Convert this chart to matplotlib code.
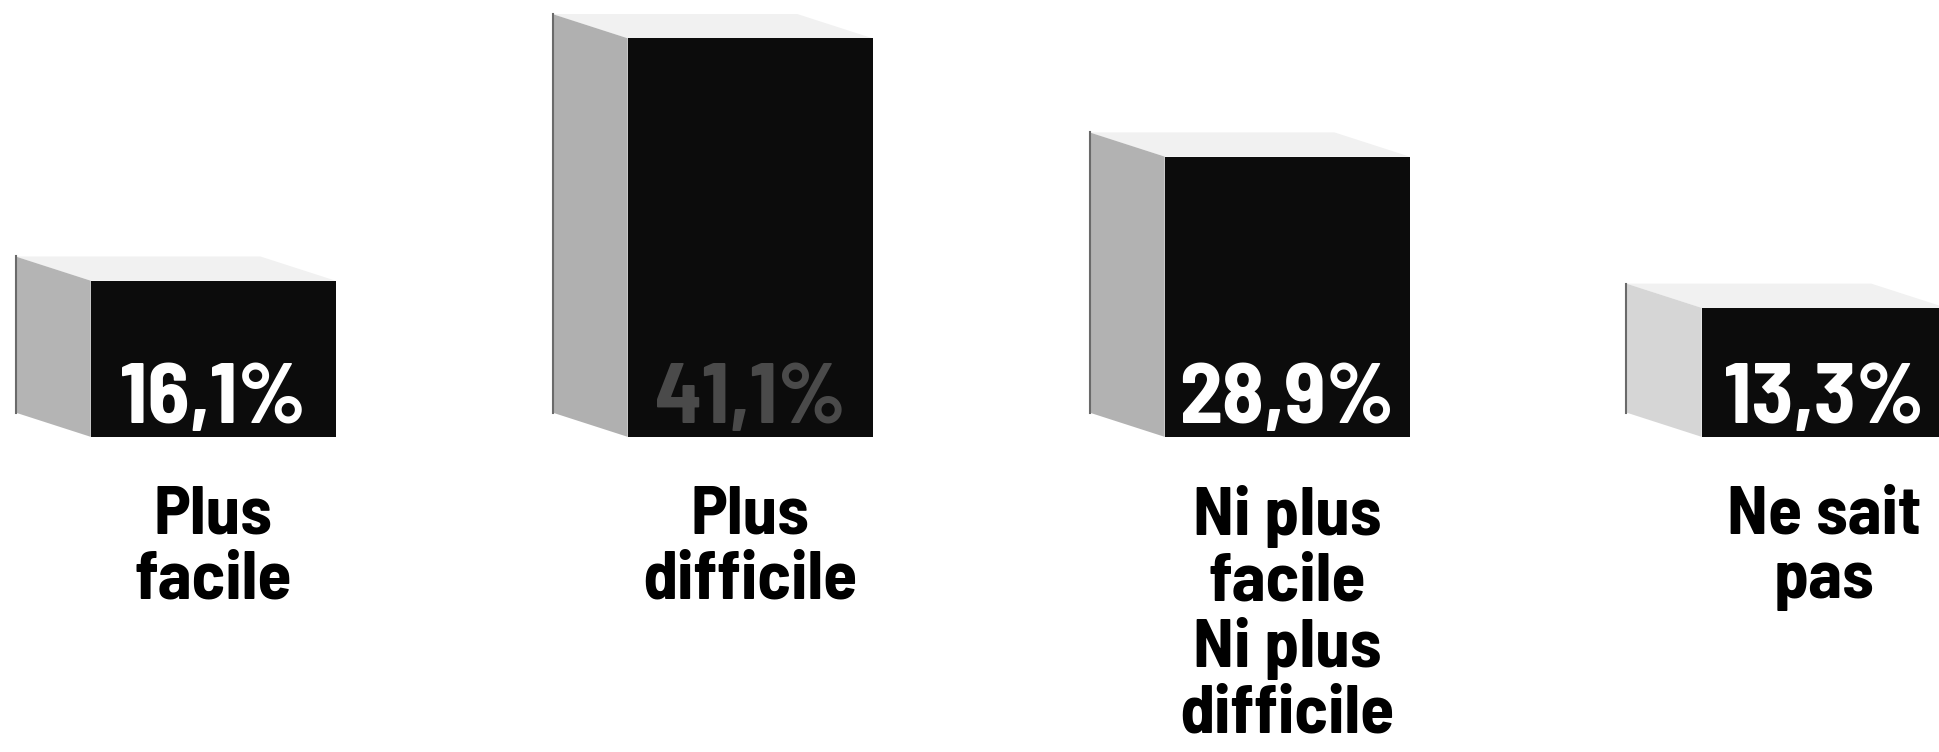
#!/usr/bin/env python3
"""Pseudo-3D bar chart: plus facile / plus difficile."""

import matplotlib

matplotlib.use("Agg")
import matplotlib.pyplot as plt
from matplotlib.patches import Polygon

categories = ["Plus\nfacile", "Plus\ndifficile", "Ni plus\nfacile\nNi plus\ndifficile", "Ne sait\npas"]
values = [16.1, 41.1, 28.9, 13.3]
value_labels = ["16,1%", "41,1%", "28,9%", "13,3%"]

FONT = ["Barlow Semi Condensed", "DejaVu Sans"]
FRONT = "#0c0c0c"
SIDE = ["#b4b4b4", "#b0b0b0", "#b2b2b2", "#d6d6d6"]
TOP = "#f1f1f1"
LABEL_COLORS = ["white", "#4a4a4a", "white", "white"]

# depth of the fake 3D box, in data units (x, y)
DX, DY = -0.14, 2.5
WIDTH = 0.456


def main() -> None:
    fig = plt.figure(figsize=(19.39, 7.52), dpi=100)
    ax = fig.add_axes([0, 0, 1, 1])
    ax.set_xlim(-0.397, 3.214)
    ax.set_ylim(-32.5, 45.05)
    ax.axis("off")

    x = list(range(len(values)))
    bars = ax.bar(x, values, WIDTH, color=FRONT, linewidth=0, zorder=3)

    for i, bar in enumerate(bars):
        x0 = bar.get_x()
        x1 = x0 + bar.get_width()
        h = bar.get_height()
        side = Polygon(
            [(x0, 0), (x0, h), (x0 + DX, h + DY), (x0 + DX, DY)],
            closed=True,
            facecolor=SIDE[i],
            edgecolor="none",
            zorder=2,
        )
        ax.add_patch(side)
        ax.plot([x0 + DX, x0 + DX], [DY, h + DY], color="#6a6a6a", linewidth=1.5, zorder=2)
        top = Polygon(
            [(x0, h), (x1, h), (x1 + DX, h + DY), (x0 + DX, h + DY)],
            closed=True,
            facecolor=TOP,
            edgecolor="none",
            zorder=1,
        )
        ax.add_patch(top)

        ax.text(
            bar.get_x() + bar.get_width() / 2.0,
            1.4,
            value_labels[i],
            ha="center",
            va="baseline",
            fontsize=62,
            fontweight="bold",
            family=FONT,
            color=LABEL_COLORS[i],
            zorder=4,
        )
        ax.text(
            bar.get_x() + bar.get_width() / 2.0,
            -5.0,
            categories[i],
            ha="center",
            va="top",
            fontsize=50,
            fontweight="bold",
            family=FONT,
            color="black",
            linespacing=1.08,
        )

    fig.savefig("out.png", dpi=100, facecolor="white")
    plt.close(fig)


if __name__ == "__main__":
    main()
